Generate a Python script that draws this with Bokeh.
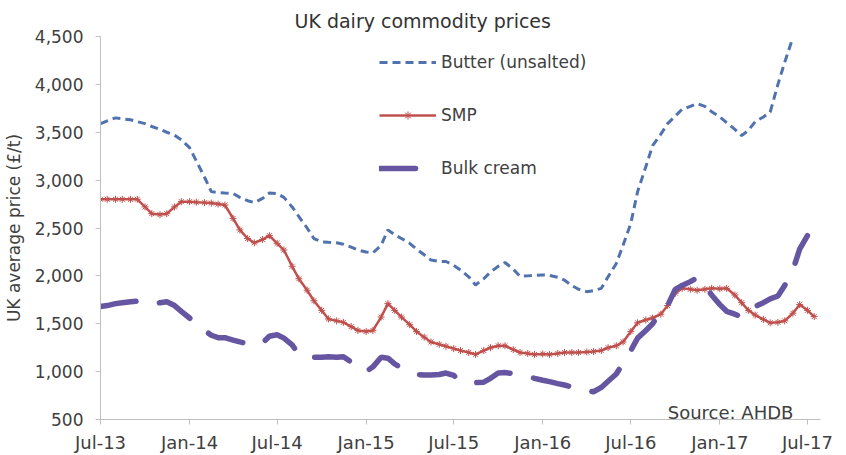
import math
import pandas as pd
from bokeh.plotting import figure
from bokeh.models import (Range1d, NumeralTickFormatter, DatetimeTickFormatter,
                          MonthsTicker, FixedTicker, Label, ColumnDataSource)
from bokeh.embed import file_html
from bokeh.resources import INLINE

dates = pd.date_range("2013-07-01", periods=98, freq="SMS")

butter = [3590, 3620, 3650, 3640, 3630, 3610, 3590, 3560, 3530, 3500,
          3470, 3420, 3340, 3200, 3030, 2880, 2870, 2865, 2860, 2820,
          2785, 2765, 2810, 2865, 2860, 2820, 2720, 2620, 2500, 2390,
          2355, 2350, 2345, 2330, 2300, 2270, 2250, 2240, 2320, 2480,
          2430, 2390, 2340, 2280, 2220, 2165, 2150, 2150, 2110, 2060,
          1990, 1905, 1970, 2040, 2100, 2140, 2070, 1995, 2000, 2005,
          2010, 2005, 1985, 1955, 1900, 1860, 1835, 1845, 1870, 1990,
          2130, 2320, 2550, 2880, 3140, 3360, 3480, 3590, 3670, 3740,
          3770, 3800, 3770, 3715, 3660, 3600, 3530, 3465, 3520, 3610,
          3660, 3710, 4000, 4230, 4490]

smp = [2800, 2800, 2800, 2800, 2800, 2800, 2720, 2650, 2640, 2650,
       2720, 2775, 2775, 2770, 2765, 2760, 2750, 2740, 2600, 2480,
       2390, 2345, 2380, 2420, 2340, 2270, 2100, 1970, 1850, 1740,
       1640, 1550, 1530, 1515, 1470, 1430, 1420, 1430, 1570, 1710,
       1640, 1570, 1490, 1420, 1360, 1310, 1285, 1265, 1240, 1220,
       1200, 1180, 1220, 1250, 1270, 1270, 1230, 1200, 1190, 1180,
       1185, 1180, 1190, 1200, 1200, 1200, 1205, 1210, 1220, 1250,
       1270, 1310, 1420, 1510, 1540, 1560, 1600, 1690, 1820, 1870,
       1860, 1850, 1860, 1870, 1865, 1870, 1800, 1720, 1640, 1590,
       1545, 1510, 1515, 1530, 1610, 1700, 1640, 1575]

cream = [1680, 1690, 1710, 1720, 1730, 1735, 1710, 1700, 1720, 1730,
         1690, 1630, 1560, 1490, 1430, 1380, 1355, 1355, 1330, 1310,
         1290, 1280, 1300, 1370, 1385, 1350, 1280, 1180, 1145, 1150,
         1150, 1155, 1150, 1155, 1100, 1040, 1000, 1050, 1150, 1140,
         1080, 1040, 1000, 970, 965, 965, 970, 985, 960, 900,
         890, 885, 890, 930, 985, 990, 980, 970, 955, 930,
         910, 895, 875, 860, 840, 815, 800, 790, 835, 900,
         975, 1090, 1220, 1350, 1430, 1500, 1630, 1690, 1860, 1900,
         1940, 1980, 1900, 1800, 1700, 1630, 1600, 1570, 1620, 1680,
         1720, 1760, 1790, 1900, 2060, 2280, 2420]

series_names = ["Butter (unsalted)", "SMP", "Bulk cream"]
y_ticks = [500, 1000, 1500, 2000, 2500, 3000, 3500, 4000, 4500]


def pad(vals):
    return [float(v) for v in vals] + [math.nan] * (len(dates) - len(vals))


src = ColumnDataSource(dict(date=dates, butter=pad(butter), smp=pad(smp), cream=pad(cream)))

FONT = "DejaVu Sans"
TXT = "#404040"

p = figure(width=846, height=455, x_axis_type="datetime", output_backend="svg",
           toolbar_location=None,
           x_range=Range1d(pd.Timestamp("2013-07-01"), pd.Timestamp("2017-07-28")),
           y_range=Range1d(500, 4500),
           min_border_left=99, min_border_right=26, min_border_top=36, min_border_bottom=35)

p.title.text = "UK dairy commodity prices"
p.title.align = "left"
p.title.offset = 194
p.title.text_font = FONT
p.title.text_font_size = "19px"
p.title.text_font_style = "normal"
p.title.text_color = "#333333"

p.outline_line_color = None
p.xgrid.visible = False
p.ygrid.visible = False

p.line("date", "butter", source=src, color="#5072AE", line_width=3,
       line_dash="8 5", legend_label=series_names[0])
p.line("date", "smp", source=src, color="#C0504D", line_width=2.5,
       legend_label=series_names[1])
p.scatter("date", "smp", source=src, marker="asterisk", size=7,
          line_color="#C0504D", line_width=1, legend_label=series_names[1])
p.line("date", "cream", source=src, color="#6656A2", line_width=5.5,
       line_dash="36 24", line_cap="round", legend_label=series_names[2])

# axes
for ax in (p.xaxis[0], p.yaxis[0]):
    ax.axis_line_color = "#BFBFBF"
    ax.major_tick_line_color = "#BFBFBF"
    ax.minor_tick_line_color = None
    ax.major_tick_in = 0
    ax.major_tick_out = 5
    ax.major_label_text_font = FONT
    ax.major_label_text_color = TXT

p.xaxis.ticker = MonthsTicker(months=[0, 6])
p.xaxis.formatter = DatetimeTickFormatter(months="%b-%y", days="%b-%y", years="%b-%y")
p.xaxis.major_label_text_font_size = "18px"
p.xaxis.major_label_standoff = 7

p.yaxis.ticker = FixedTicker(ticks=y_ticks)
p.yaxis.formatter = NumeralTickFormatter(format="0,0")
p.yaxis.major_label_text_font_size = "17px"
p.yaxis.major_label_standoff = 12
p.yaxis.axis_label = "UK average price (£/t)"
p.yaxis.axis_label_text_font = FONT
p.yaxis.axis_label_text_font_size = "17px"
p.yaxis.axis_label_text_font_style = "normal"
p.yaxis.axis_label_text_color = TXT
p.yaxis.axis_label_standoff = 8

lg = p.legend[0]
lg.location = (279, 241)
lg.margin = 0
lg.padding = 0
lg.spacing = 33
lg.glyph_width = 57
lg.glyph_height = 20
lg.label_height = 20
lg.label_standoff = 5
lg.border_line_alpha = 0
lg.background_fill_alpha = 0
lg.label_text_font = FONT
lg.label_text_font_size = "17px"
lg.label_text_color = TXT

src_label = Label(x=pd.Timestamp("2017-06-02").timestamp() * 1000, y=575,
                  text="Source: AHDB", text_align="right", text_baseline="alphabetic",
                  text_font=FONT, text_font_size="18px", text_color=TXT)
p.add_layout(src_label)

open("out.html", "w").write(file_html(p, INLINE))
